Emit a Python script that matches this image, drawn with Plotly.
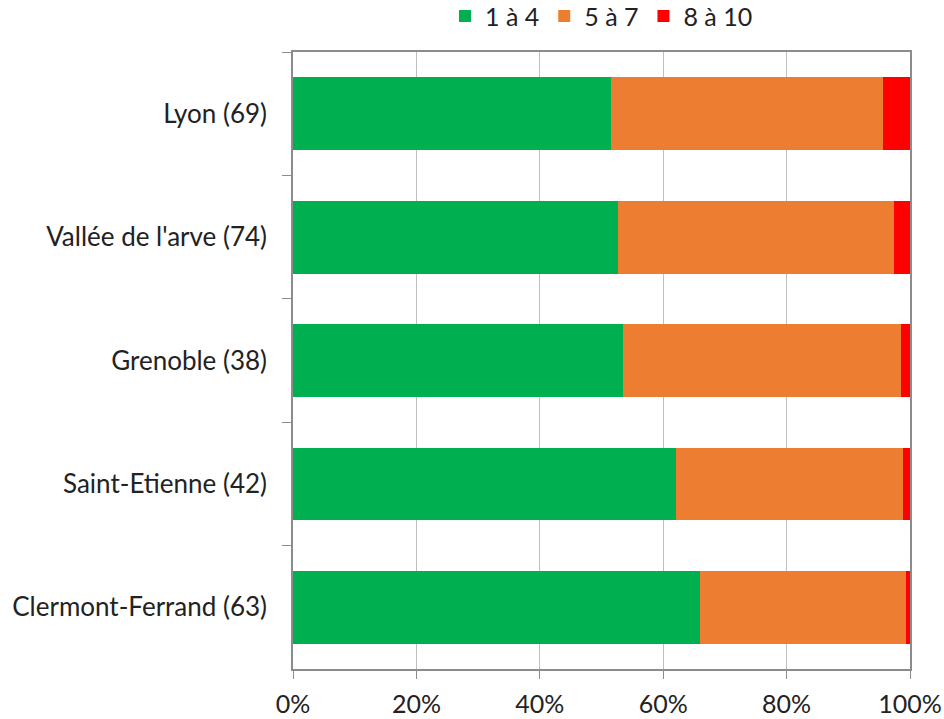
import plotly.graph_objects as go

categories = ["Lyon (69)", "Vallée de l'arve (74)", "Grenoble (38)", "Saint-Etienne (42)", "Clermont-Ferrand (63)"]
low = [51.5, 52.6, 53.5, 62.0, 65.9]
mid = [44.1, 44.8, 45.0, 36.9, 33.4]
high = [4.4, 2.6, 1.5, 1.1, 0.7]
series_names = ["1 à 4", "5 à 7", "8 à 10"]
colors = ["#00B050", "#ED7D31", "#FF0000"]
tick_vals = [0, 20, 40, 60, 80, 100]
tick_text = ["0%", "20%", "40%", "60%", "80%", "100%"]

font_family = "Lato, 'Open Sans', sans-serif"

fig = go.Figure()
for name, vals, col in zip(series_names, [low, mid, high], colors):
    fig.add_trace(go.Bar(
        y=categories, x=vals, name=name, orientation="h",
        marker=dict(color=col, line=dict(width=0)),
    ))

fig.update_layout(
    barmode="stack",
    bargap=0.41,
    width=944, height=719,
    margin=dict(l=293, r=34, t=52, b=50, autoexpand=False),
    paper_bgcolor="white", plot_bgcolor="white",
    font=dict(family=font_family, size=25, color="#222222"),
    legend=dict(orientation="h", x=0.5, xanchor="center", y=1.058, yanchor="middle",
                font=dict(size=25), traceorder="normal", itemwidth=30),
    showlegend=True,
    xaxis=dict(range=[0, 100], tickvals=tick_vals, ticktext=tick_text,
               showgrid=True, gridcolor="#BFBFBF", gridwidth=1,
               showline=True, linecolor="#8C8C8C", linewidth=1.5, mirror=True,
               ticks="outside", ticklen=8, tickcolor="#8C8C8C",
               ticklabelstandoff=4,
               zeroline=False, fixedrange=True),
    yaxis=dict(autorange="reversed", type="category",
               showgrid=False, showline=True, linecolor="#8C8C8C", linewidth=1.5, mirror=True,
               ticks="outside", tickson="boundaries", ticklen=9, tickcolor="#8C8C8C",
               tickfont=dict(size=26),
               ticklabelstandoff=19, fixedrange=True),
)

fig.write_html("out.html")
